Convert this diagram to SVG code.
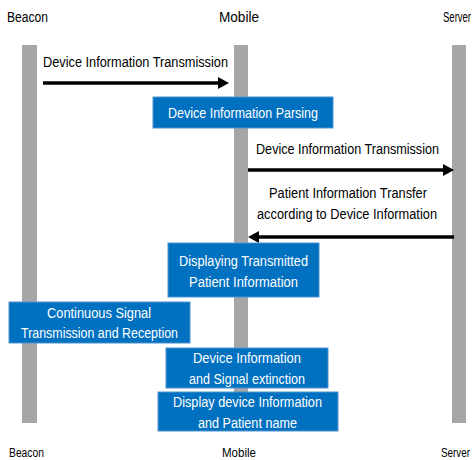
<svg xmlns="http://www.w3.org/2000/svg" width="472" height="460" viewBox="0 0 472 460">
<style>
text{font-family:"Liberation Sans",Arial,sans-serif;font-size:14px;fill:#000}
.w{fill:#fff;text-anchor:middle}
.c{text-anchor:middle}
.life{fill:#a6a6a6}
.box{fill:#0070c0;stroke:#4f93d2;stroke-width:1}
.msg{stroke:#000;stroke-width:3.5;fill:none}
.sm{font-size:12.5px}
</style>
<defs>
<marker id="ah" viewBox="0 0 11 12" refX="2" refY="6" markerWidth="11" markerHeight="12" markerUnits="userSpaceOnUse" orient="auto">
<path d="M0,0 L11,6 L0,12 z" fill="#000"/>
</marker>
</defs>
<rect width="472" height="460" fill="#fff"/>
<g id="beacon">
<text x="27.5" y="22" class="c" textLength="41" lengthAdjust="spacingAndGlyphs">Beacon</text>
<rect class="life" x="22" y="45" width="15" height="378"/>
<text x="26.5" y="456.5" class="c sm" textLength="35" lengthAdjust="spacingAndGlyphs">Beacon</text>
</g>
<g id="mobile">
<text x="239" y="22" class="c" textLength="40" lengthAdjust="spacingAndGlyphs">Mobile</text>
<rect class="life" x="234" y="45" width="14" height="378"/>
<text x="239" y="456.5" class="c sm" textLength="34" lengthAdjust="spacingAndGlyphs">Mobile</text>
</g>
<g id="server">
<text x="443" y="22" textLength="28" lengthAdjust="spacingAndGlyphs">Server</text>
<rect class="life" x="452" y="45" width="14" height="378"/>
<text x="470" y="456.5" class="sm" text-anchor="end" textLength="29" lengthAdjust="spacingAndGlyphs">Server</text>
</g>
<g id="connectors">
<line class="msg" x1="43" y1="83" x2="220" y2="83" marker-end="url(#ah)"/>
<text x="135.5" y="67" class="c" textLength="185" lengthAdjust="spacingAndGlyphs">Device Information Transmission</text>
<line class="msg" x1="248" y1="170" x2="445" y2="170" marker-end="url(#ah)"/>
<text x="347.5" y="154" class="c" textLength="183" lengthAdjust="spacingAndGlyphs">Device Information Transmission</text>
<line class="msg" x1="454" y1="237" x2="257" y2="237" marker-end="url(#ah)"/>
<text x="348" y="198" class="c" textLength="158" lengthAdjust="spacingAndGlyphs">Patient Information Transfer</text>
<text x="347" y="219" class="c" textLength="180" lengthAdjust="spacingAndGlyphs">according to Device Information</text>
</g>
<g id="parsing">
<rect class="box" x="153" y="97" width="180" height="31"/>
<text x="243" y="118" class="w" textLength="150" lengthAdjust="spacingAndGlyphs">Device Information Parsing</text>
</g>
<g id="displaying">
<rect class="box" x="168" y="243" width="151" height="54"/>
<text x="243.5" y="266" class="w" textLength="129" lengthAdjust="spacingAndGlyphs">Displaying Transmitted</text>
<text x="243.5" y="287" class="w" textLength="109" lengthAdjust="spacingAndGlyphs">Patient Information</text>
</g>
<g id="continuous">
<rect class="box" x="9" y="302" width="181" height="41"/>
<text x="99" y="318" class="w" textLength="104" lengthAdjust="spacingAndGlyphs">Continuous Signal</text>
<text x="99.5" y="338" class="w" textLength="157" lengthAdjust="spacingAndGlyphs">Transmission and Reception</text>
</g>
<g id="extinction">
<rect class="box" x="166" y="348" width="162" height="40"/>
<text x="247" y="363" class="w" textLength="108" lengthAdjust="spacingAndGlyphs">Device Information</text>
<text x="247" y="384" class="w" textLength="116" lengthAdjust="spacingAndGlyphs">and Signal extinction</text>
</g>
<g id="display-name">
<rect class="box" x="158" y="392" width="180" height="39"/>
<text x="247.5" y="407" class="w" textLength="149" lengthAdjust="spacingAndGlyphs">Display device Information</text>
<text x="247.5" y="428" class="w" textLength="99" lengthAdjust="spacingAndGlyphs">and Patient name</text>
</g>
</svg>
